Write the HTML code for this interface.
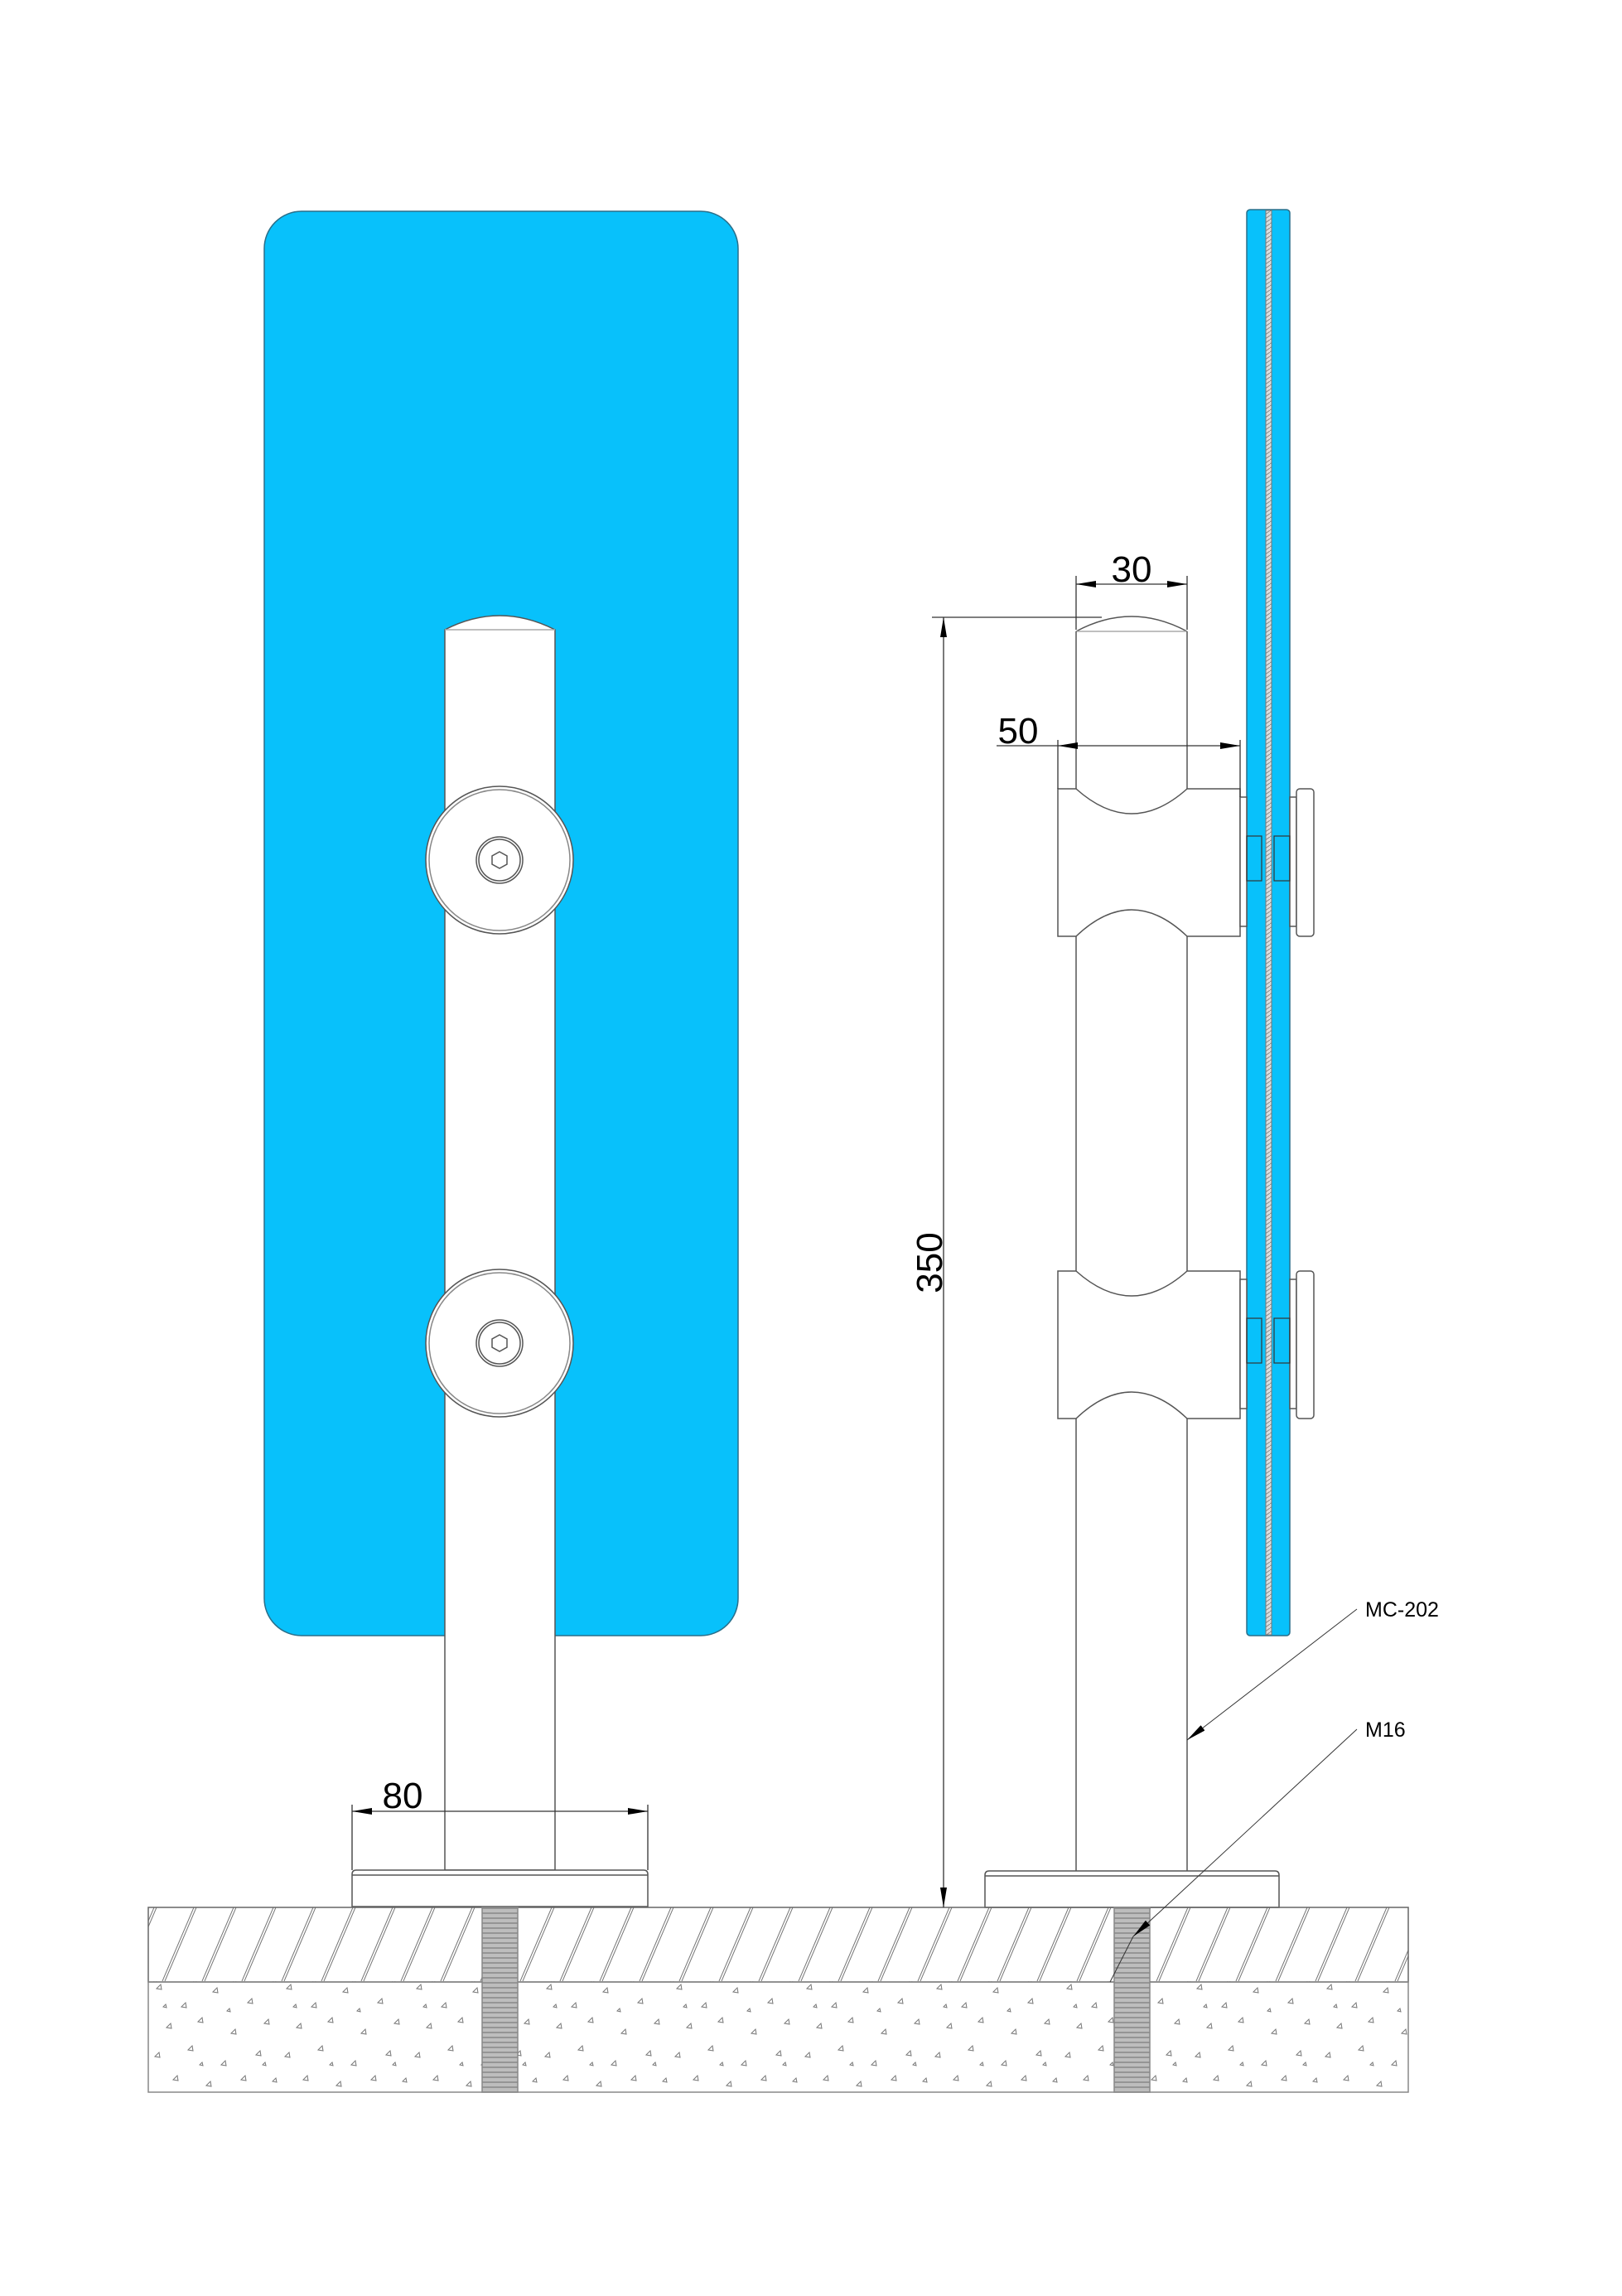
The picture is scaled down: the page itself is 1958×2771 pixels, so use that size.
<!DOCTYPE html>
<html><head><meta charset="utf-8"><style>html,body{margin:0;padding:0;background:#fff}svg{display:block}</style></head>
<body>
<svg width="1958" height="2771" viewBox="0 0 1958 2771" xmlns="http://www.w3.org/2000/svg" font-family="Liberation Sans, sans-serif">
<defs>
<pattern id="hatch" patternUnits="userSpaceOnUse" x="0" y="2302" width="48" height="89">
<line x1="4" y1="89" x2="42" y2="0" stroke="#777" stroke-width="1"/>
<line x1="7" y1="89" x2="45" y2="0" stroke="#777" stroke-width="1"/>
</pattern>
<pattern id="conc" patternUnits="userSpaceOnUse" x="179" y="2392" width="157" height="134">
<g fill="none" stroke="#777" stroke-width="1">
<path d="M10 8l5 -5 1 6z"/><path d="M40 30l5 -5 1 6z"/><path d="M78 12l5 -5 1 6z"/><path d="M120 25l5 -5 1 6z"/>
<path d="M22 55l5 -5 1 6z"/><path d="M60 48l5 -5 1 6z"/><path d="M100 62l5 -5 1 6z"/><path d="M140 50l5 -5 1 6z"/>
<path d="M8 90l5 -5 1 6z"/><path d="M48 82l5 -5 1 6z"/><path d="M88 100l5 -5 1 6z"/><path d="M130 88l5 -5 1 6z"/>
<path d="M30 118l5 -5 1 6z"/><path d="M70 125l5 -5 1 6z"/><path d="M112 118l5 -5 1 6z"/><path d="M150 120l4 -4 1 5z"/>
<path d="M95 35l3 -3 1 4z"/><path d="M18 30l3 -3 1 4z"/><path d="M138 100l3 -3 1 4z"/><path d="M62 100l3 -3 1 4z"/>
</g>
</pattern>
<pattern id="thread" patternUnits="userSpaceOnUse" x="0" y="2302" width="10" height="6">
<rect width="10" height="6" fill="#bdbdbd"/><line x1="0" y1="1" x2="10" y2="1" stroke="#888" stroke-width="1.5"/>
</pattern>
<pattern id="inter" patternUnits="userSpaceOnUse" width="7" height="5">
<rect width="7" height="5" fill="#ddd"/><line x1="0" y1="5" x2="7" y2="0" stroke="#888" stroke-width="1"/>
</pattern>
<marker id="ar" viewBox="0 0 24 8" refX="24" refY="4" markerWidth="24" markerHeight="8" markerUnits="userSpaceOnUse" orient="auto"><path d="M0 0L24 4L0 8z" fill="#000"/></marker>
<marker id="as" viewBox="0 0 24 8" refX="0" refY="4" markerWidth="24" markerHeight="8" markerUnits="userSpaceOnUse" orient="auto"><path d="M24 0L0 4L24 8z" fill="#000"/></marker>
</defs>

<g stroke="#555" stroke-width="1.5">
<rect x="319" y="255" width="572" height="1719" rx="45" fill="#08c1fb" stroke="#2a6f8a"/>
<path d="M537 760 Q603 726 670 760 L670 2257 L537 2257 Z" fill="#fff"/>
<line x1="537" y1="760" x2="670" y2="760" stroke="#aaa"/>
<g fill="#fff">
<circle cx="603" cy="1038" r="89"/><circle cx="603" cy="1038" r="85" stroke="#888"/>
<circle cx="603" cy="1038" r="28"/><circle cx="603" cy="1038" r="25"/>
<path d="M603 1028l9 5v10l-9 5-9-5v-10z"/>
<circle cx="603" cy="1621" r="89"/><circle cx="603" cy="1621" r="85" stroke="#888"/>
<circle cx="603" cy="1621" r="28"/><circle cx="603" cy="1621" r="25"/>
<path d="M603 1611l9 5v10l-9 5-9-5v-10z"/>
</g>
<path d="M425 2301 L425 2262 Q425 2257 430 2257 L777 2257 Q782 2257 782 2262 L782 2301 Z" fill="#fff"/>
<line x1="425" y1="2263" x2="782" y2="2263"/>

<rect x="1505" y="253" width="52" height="1721" rx="4" fill="#08c1fb" stroke="#2a6f8a"/>
<rect x="1528" y="254" width="7" height="1719" fill="url(#inter)" stroke="#777" stroke-width="1"/>
<path d="M1299 762 Q1366 726 1433 762" fill="#fff"/>
<line x1="1299" y1="762" x2="1433" y2="762" stroke="#aaa"/>
<line x1="1299" y1="762" x2="1299" y2="2258"/>
<line x1="1433" y1="762" x2="1433" y2="2258"/>
<g fill="#fff">
<path d="M1277 952 L1299 952 Q1366 1012 1433 952 L1497 952 L1497 1130 L1433 1130 Q1366 1066 1299 1130 L1277 1130 Z"/>
<path d="M1277 1534 L1299 1534 Q1366 1594 1433 1534 L1497 1534 L1497 1712 L1433 1712 Q1366 1648 1299 1712 L1277 1712 Z"/>
<rect x="1497" y="962" width="8" height="156"/><rect x="1497" y="1544" width="8" height="156"/>
<rect x="1557" y="962" width="8" height="156"/><rect x="1557" y="1544" width="8" height="156"/>
<rect x="1565" y="952" width="21" height="178" rx="4"/><rect x="1565" y="1534" width="21" height="178" rx="4"/>
</g>
<g fill="none" stroke="#333" stroke-width="1.2">
<rect x="1505" y="1009" width="18" height="54"/><rect x="1538" y="1009" width="19" height="54"/>
<rect x="1505" y="1591" width="18" height="54"/><rect x="1538" y="1591" width="19" height="54"/>
</g>
<path d="M1189 2302 L1189 2263 Q1189 2258 1194 2258 L1539 2258 Q1544 2258 1544 2263 L1544 2302 Z" fill="#fff"/>
<line x1="1189" y1="2264" x2="1544" y2="2264"/>

<rect x="179" y="2302" width="1521" height="90" fill="url(#hatch)" stroke="#666"/>
<rect x="179" y="2392" width="1521" height="133" fill="url(#conc)" stroke="#888"/>
<rect x="582" y="2302" width="43" height="223" fill="url(#thread)" stroke="#888"/>
<rect x="1345" y="2302" width="43" height="223" fill="url(#thread)" stroke="#888"/>
</g>

<g stroke="#333" stroke-width="1.3" fill="none">
<line x1="1299" y1="695" x2="1299" y2="760"/><line x1="1433" y1="695" x2="1433" y2="760"/>
<line x1="1299" y1="705" x2="1433" y2="705" marker-start="url(#as)" marker-end="url(#ar)"/>
<line x1="1125" y1="745" x2="1330" y2="745"/>
<line x1="1139" y1="745" x2="1139" y2="2302" marker-start="url(#as)" marker-end="url(#ar)"/>
<line x1="1277" y1="893" x2="1277" y2="952"/><line x1="1497" y1="893" x2="1497" y2="962"/>
<line x1="1203" y1="900" x2="1277" y2="900"/>
<line x1="1277" y1="900" x2="1497" y2="900" marker-start="url(#as)" marker-end="url(#ar)"/>
<line x1="425" y1="2178" x2="425" y2="2257"/><line x1="782" y1="2178" x2="782" y2="2257"/>
<line x1="425" y1="2186" x2="782" y2="2186" marker-start="url(#as)" marker-end="url(#ar)"/>
<line x1="1638" y1="1942" x2="1433" y2="2100" stroke-width="1" marker-end="url(#ar)"/>
<line x1="1638" y1="2087" x2="1368" y2="2337" stroke-width="1" marker-end="url(#ar)"/>
<line x1="1368" y1="2337" x2="1340" y2="2392" stroke-width="1"/>
</g>
<g fill="#000" font-size="44">
<text x="1366" y="702" text-anchor="middle">30</text>
<text x="1229" y="897" text-anchor="middle">50</text>
<text x="486" y="2182" text-anchor="middle">80</text>
<text x="0" y="0" text-anchor="middle" transform="translate(1137 1524) rotate(-90)">350</text>
<text x="1648" y="1951" font-size="25">MC-202</text>
<text x="1648" y="2096" font-size="25">M16</text>
</g>
</svg>
</body></html>
